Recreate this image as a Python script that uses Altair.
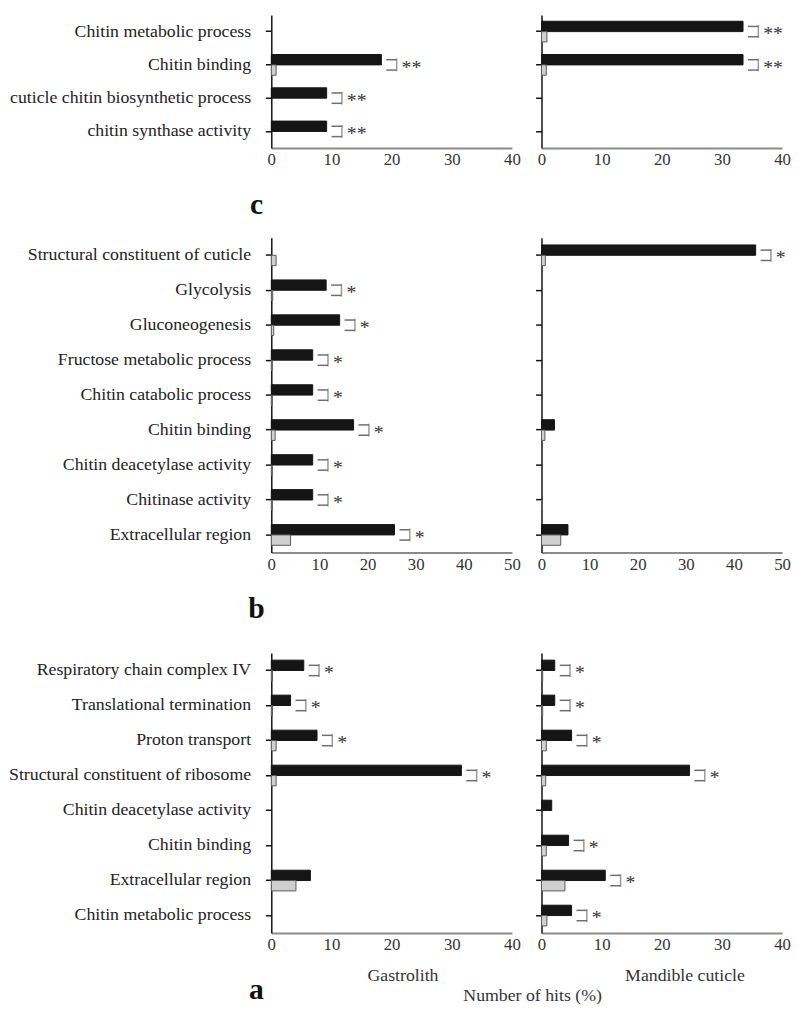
import altair as alt
import pandas as pd

FONT = "Liberation Serif"

# ---------------- data (top-to-bottom order) ----------------
series_names = ["sample", "background"]
panel_letters = ["c", "b", "a"]
x_titles = ["Gastrolith", "Mandible cuticle"]
common_title = "Number of hits (%)"

c_cats = ["Chitin metabolic process", "Chitin binding",
          "cuticle chitin biosynthetic process", "chitin synthase activity"]
c_gastro_sample = [0, 18.3, 9.2, 9.2]
c_gastro_bg = [0, 0.8, 0, 0]
c_gastro_sig = ["", "**", "**", "**"]
c_mand_sample = [33.5, 33.5, 0, 0]
c_mand_bg = [0.9, 0.8, 0, 0]
c_mand_sig = ["**", "**", "", ""]

b_cats = ["Structural constituent of cuticle", "Glycolysis", "Gluconeogenesis",
          "Fructose metabolic process", "Chitin catabolic process", "Chitin binding",
          "Chitin deacetylase activity", "Chitinase activity", "Extracellular region"]
b_gastro_sample = [0, 11.4, 14.2, 8.6, 8.6, 17.1, 8.6, 8.6, 25.6]
b_gastro_bg = [1.0, 0.3, 0.5, 0.2, 0.2, 0.8, 0.2, 0.2, 4.0]
b_gastro_sig = ["", "*", "*", "*", "*", "*", "*", "*", "*"]
b_mand_sample = [44.5, 0, 0, 0, 0, 2.7, 0, 0, 5.5]
b_mand_bg = [0.8, 0, 0, 0, 0, 0.7, 0, 0.2, 4.0]
b_mand_sig = ["*", "", "", "", "", "", "", "", ""]

a_cats = ["Respiratory chain complex IV", "Translational termination", "Proton transport",
          "Structural constituent of ribosome", "Chitin deacetylase activity", "Chitin binding",
          "Extracellular region", "Chitin metabolic process"]
a_gastro_sample = [5.4, 3.2, 7.6, 31.6, 0, 0, 6.5, 0]
a_gastro_bg = [0.2, 0.2, 0.8, 0.8, 0, 0, 4.1, 0]
a_gastro_sig = ["*", "*", "*", "*", "", "", "", ""]
a_mand_sample = [2.2, 2.2, 5.0, 24.6, 1.7, 4.5, 10.6, 5.0]
a_mand_bg = [0.2, 0.2, 0.8, 0.7, 0, 0.8, 3.9, 0.9]
a_mand_sig = ["*", "*", "*", "*", "", "*", "*", "*"]

# ---------------- style ----------------
PANEL_W = 244
BAND_PX = 21
BRACKET_GAP = 5
BRACKET_W = 10.5
BRACKET_COLOR = "#6e6e6e"


def panel(cats, sample, bg, sig, xmax, height, show_labels,
          top=0, letter=None, xtitle=None, title_dx=0, extra=None):
    n = len(cats)
    step = (height - top) / n
    pi = 1 - BAND_PX / step
    ppu = PANEL_W / xmax

    bars = pd.DataFrame(
        [{"cat": c, "series": "sample", "value": v} for c, v in zip(cats, sample) if v > 0]
        + [{"cat": c, "series": "background", "value": v} for c, v in zip(cats, bg) if v > 0]
    )
    hr, vr = [], []
    for c, s, g, m in zip(cats, sample, bg, sig):
        if m:
            start = max(s, g) + BRACKET_GAP / ppu
            end = start + BRACKET_W / ppu
            hr.append({"cat": c, "series": "sample", "x1": start, "x2": end})
            hr.append({"cat": c, "series": "background", "x1": start, "x2": end})
            vr.append({"cat": c, "x1": end, "sig": m})
    hr = pd.DataFrame(hr)
    vr = pd.DataFrame(vr)

    y_axis = alt.Axis(
        labels=show_labels, labelFont=FONT, labelFontSize=18, labelColor="#222",
        labelPadding=15, labelLimit=400, tickSize=6, tickColor="#111", tickWidth=1.5,
        domainColor="#111", domainWidth=1.5, grid=False, title=None,
    )
    yscale_kw = dict(domain=cats, paddingInner=pi, paddingOuter=pi / 2)
    if top:
        yscale_kw["range"] = [top, height]
    y_enc = alt.Y("cat:N", sort=cats, scale=alt.Scale(**yscale_kw), axis=y_axis, title=None)
    yoff = alt.YOffset("series:N",
                       scale=alt.Scale(domain=series_names, paddingInner=0, paddingOuter=0))

    ax_kw = dict(
        values=list(range(0, xmax + 1, 10)), ticks=False, grid=False,
        domainColor="#8c8c8c", domainWidth=2, labelFont=FONT, labelFontSize=17,
        labelColor="#333", labelPadding=4, labelFlush=False,
    )
    if xtitle:
        ax_kw.update(title=xtitle, titleFont=FONT, titleFontSize=18,
                     titleFontWeight="normal", titleColor="#333",
                     titleX=PANEL_W / 2 + title_dx, titleY=43, titleBaseline="middle")
    else:
        ax_kw.update(title=None)
    x_axis = alt.Axis(**ax_kw)
    xscale = alt.Scale(domain=[0, xmax], nice=False, zero=True)

    def X(field):
        return alt.X(field, scale=xscale, axis=x_axis, title=xtitle if xtitle else None)

    layer_bars = alt.Chart(bars).mark_bar(strokeWidth=1).encode(
        y=y_enc, yOffset=yoff, x=X("value:Q"),
        color=alt.Color("series:N", scale=alt.Scale(domain=series_names,
                                                    range=["#151515", "#cfcfcf"]), legend=None),
        stroke=alt.Stroke("series:N", scale=alt.Scale(domain=series_names,
                                                      range=["#151515", "#5a5a5a"]), legend=None),
    )
    layers = [layer_bars]
    if len(hr):
        layers.append(alt.Chart(hr).mark_rule(color=BRACKET_COLOR, strokeWidth=1.5).encode(
            y=y_enc, yOffset=yoff, x=X("x1:Q"), x2="x2:Q"))
        layers.append(alt.Chart(vr).mark_tick(color=BRACKET_COLOR, thickness=1.5, size=13).encode(
            y=y_enc, x=X("x1:Q")))
        layers.append(alt.Chart(vr).mark_text(align="left", baseline="middle", dx=5, dy=3,
                                              font=FONT, fontSize=20, color="#333").encode(
            y=y_enc, x=X("x1:Q"), text="sig:N"))
    if letter:
        layers.append(alt.Chart(pd.DataFrame({"t": [letter]})).mark_text(
            font=FONT, fontSize=30, fontWeight="bold", color="#111",
            align="center", baseline="middle").encode(
            text="t:N", x=alt.value(-15), y=alt.value(height + 58)))
    if extra:
        layers.append(alt.Chart(pd.DataFrame({"t": [extra]})).mark_text(
            font=FONT, fontSize=18, color="#333", align="center", baseline="middle").encode(
            text="t:N", x=alt.value(-9), y=alt.value(height + 64)))
    return alt.layer(*layers).properties(width=PANEL_W, height=height)


panels = [
    panel(c_cats, c_gastro_sample, c_gastro_bg, c_gastro_sig, 40, 135, True, letter=panel_letters[0]),
    panel(c_cats, c_mand_sample, c_mand_bg, c_mand_sig, 40, 135, False),
    panel(b_cats, b_gastro_sample, b_gastro_bg, b_gastro_sig, 50, 319, True, letter=panel_letters[1]),
    panel(b_cats, b_mand_sample, b_mand_bg, b_mand_sig, 50, 319, False),
    panel(a_cats, a_gastro_sample, a_gastro_bg, a_gastro_sig, 40, 295, True, top=11,
          letter=panel_letters[2], xtitle=x_titles[0], title_dx=11),
    panel(a_cats, a_mand_sample, a_mand_bg, a_mand_sig, 40, 295, False, top=11,
          xtitle=x_titles[1], title_dx=23, extra=common_title),
]

chart = alt.concat(
    *panels, columns=2, spacing={"row": 91, "column": 30}, bounds="flush",
).properties(padding=0).configure_view(stroke=None).configure_axis(grid=False)

chart.save("out.html", embed_options={"renderer": "svg", "actions": False})
